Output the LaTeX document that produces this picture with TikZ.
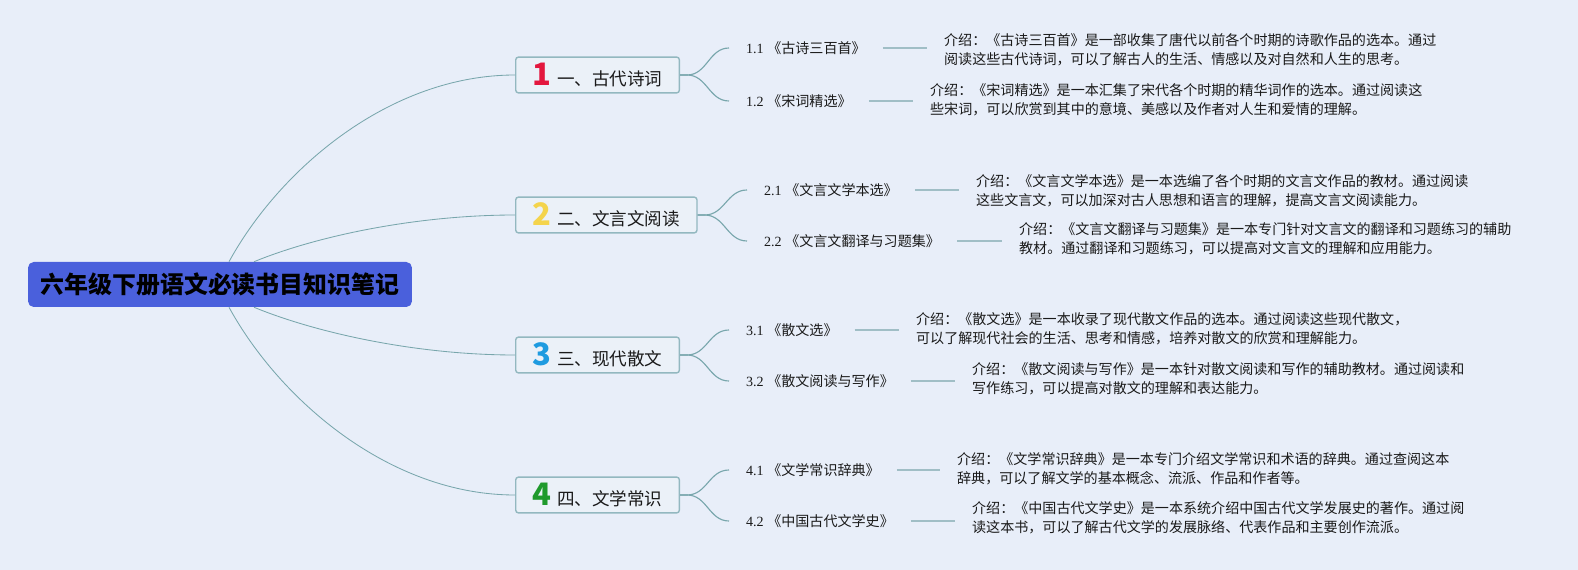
\documentclass[tikz,border=0pt]{standalone}
\usepackage{fontspec}
\setmainfont{Liberation Serif}
\newfontfamily\cjk{Noto Sans CJK SC}
\usepackage{tikz}
\definecolor{mapaFondo}{HTML}{E8EEF9}
\definecolor{mapaRaiz}{HTML}{4A60DC}
\definecolor{mapaRamaFondo}{HTML}{EBF1F8}
\definecolor{mapaRamaBorde}{HTML}{93B8C0}
\definecolor{mapaCurva}{HTML}{78A6AC}
\definecolor{mapaLinea}{HTML}{A0BEC6}
\definecolor{mapaTexto}{HTML}{1A1A1A}
\definecolor{numUno}{HTML}{E3173E}
\definecolor{numDos}{HTML}{F4D44C}
\definecolor{numTres}{HTML}{1E9BE0}
\definecolor{numCuatro}{HTML}{1F9A2C}
\newcommand{\numero}[2]{{\color{#1}\cjk\bfseries\fontsize{22}{22}\selectfont #2}\hspace{4pt}}

\begin{document}
\begin{tikzpicture}[x=0.025cm, y=-0.025cm,
  raiz/.style={fill=mapaRaiz, rounded corners=4pt, inner xsep=9pt, minimum height=32pt,
    font=\cjk\bfseries\fontsize{17}{17}\selectfont, text=black},
  rama/.style={draw=mapaRamaBorde, fill=mapaRamaFondo, line width=1pt, rounded corners=2pt,
    minimum height=25.5pt, inner xsep=12pt, inner ysep=0pt, anchor=west, font=\cjk\fontsize{12.5}{12.5}\selectfont, text=mapaTexto},
  libro/.style={anchor=west, inner xsep=12pt, font=\fontsize{10}{13}\selectfont, text=mapaTexto},
  nota/.style={anchor=west, inner xsep=12pt, align=left, font=\cjk\fontsize{10}{13.5}\selectfont, text=mapaTexto},
  curva/.style={draw=mapaCurva, line width=0.6pt},
  enlace/.style={draw=mapaLinea, line width=1.4pt},
]
  % Fondo
  \fill[mapaFondo] (0,0) rectangle (1578,570);

  % Tema central
  \node[raiz] (raiz) at (220,284.5) {六年级下册语文必读书目知识笔记};

  % Ramas principales
  \node[rama] (r1) at (515,75)  {\numero{numUno}{1}一、古代诗词};
  \node[rama] (r2) at (515,215) {\numero{numDos}{2}二、文言文阅读};
  \node[rama] (r3) at (515,355) {\numero{numTres}{3}三、现代散文};
  \node[rama] (r4) at (515,495) {\numero{numCuatro}{4}四、文学常识};

  \draw[curva] (raiz.north) ++(9,0)  .. controls +(51,-93) and +(-125,0) .. (r1.west);
  \draw[curva] (raiz.north) ++(34,0) .. controls +(66,-27) and +(-95,0) .. (r2.west);
  \draw[curva] (raiz.south) ++(34,0) .. controls +(66,27) and +(-95,0) .. (r3.west);
  \draw[curva] (raiz.south) ++(9,0)  .. controls +(51,93) and +(-125,0) .. (r4.west);

  % Libros
  \node[libro] (l11) at (729,48)  {1.1 {\cjk《古诗三百首》}};
  \node[libro] (l12) at (729,101) {1.2 {\cjk《宋词精选》}};
  \node[libro] (l21) at (747,190) {2.1 {\cjk《文言文学本选》}};
  \node[libro] (l22) at (747,241) {2.2 {\cjk《文言文翻译与习题集》}};
  \node[libro] (l31) at (729,330) {3.1 {\cjk《散文选》}};
  \node[libro] (l32) at (729,381) {3.2 {\cjk《散文阅读与写作》}};
  \node[libro] (l41) at (729,470) {4.1 {\cjk《文学常识辞典》}};
  \node[libro] (l42) at (729,521) {4.2 {\cjk《中国古代文学史》}};

  \foreach \r/\a/\b in {r1/l11/l12, r2/l21/l22, r3/l31/l32, r4/l41/l42} {
    \draw[curva, line width=0.8pt] (\r.east) -- ++(7,0) .. controls +(20,0) and +(-20,0) .. (\a.west);
    \draw[curva, line width=0.8pt] (\r.east) -- ++(7,0) .. controls +(20,0) and +(-20,0) .. (\b.west);
  }

  % Notas
  \node[nota] (d11) at (927,50)  {介绍：《古诗三百首》是一部收集了唐代以前各个时期的诗歌作品的选本。通过\\阅读这些古代诗词，可以了解古人的生活、情感以及对自然和人生的思考。};
  \node[nota] (d12) at (913,100) {介绍：《宋词精选》是一本汇集了宋代各个时期的精华词作的选本。通过阅读这\\些宋词，可以欣赏到其中的意境、美感以及作者对人生和爱情的理解。};
  \node[nota] (d21) at (959,191) {介绍：《文言文学本选》是一本选编了各个时期的文言文作品的教材。通过阅读\\这些文言文，可以加深对古人思想和语言的理解，提高文言文阅读能力。};
  \node[nota] (d22) at (1002,239) {介绍：《文言文翻译与习题集》是一本专门针对文言文的翻译和习题练习的辅助\\教材。通过翻译和习题练习，可以提高对文言文的理解和应用能力。};
  \node[nota] (d31) at (899,329) {介绍：《散文选》是一本收录了现代散文作品的选本。通过阅读这些现代散文，\\可以了解现代社会的生活、思考和情感，培养对散文的欣赏和理解能力。};
  \node[nota] (d32) at (955,379) {介绍：《散文阅读与写作》是一本针对散文阅读和写作的辅助教材。通过阅读和\\写作练习，可以提高对散文的理解和表达能力。};
  \node[nota] (d41) at (940,469) {介绍：《文学常识辞典》是一本专门介绍文学常识和术语的辞典。通过查阅这本\\辞典，可以了解文学的基本概念、流派、作品和作者等。};
  \node[nota] (d42) at (955,518) {介绍：《中国古代文学史》是一本系统介绍中国古代文学发展史的著作。通过阅\\读这本书，可以了解古代文学的发展脉络、代表作品和主要创作流派。};

  \foreach \a/\d in {l11/d11, l12/d12, l21/d21, l22/d22, l31/d31, l32/d32, l41/d41, l42/d42}
    \draw[enlace] (\a.east) -- (\a.east -| \d.west);
\end{tikzpicture}
\end{document}
